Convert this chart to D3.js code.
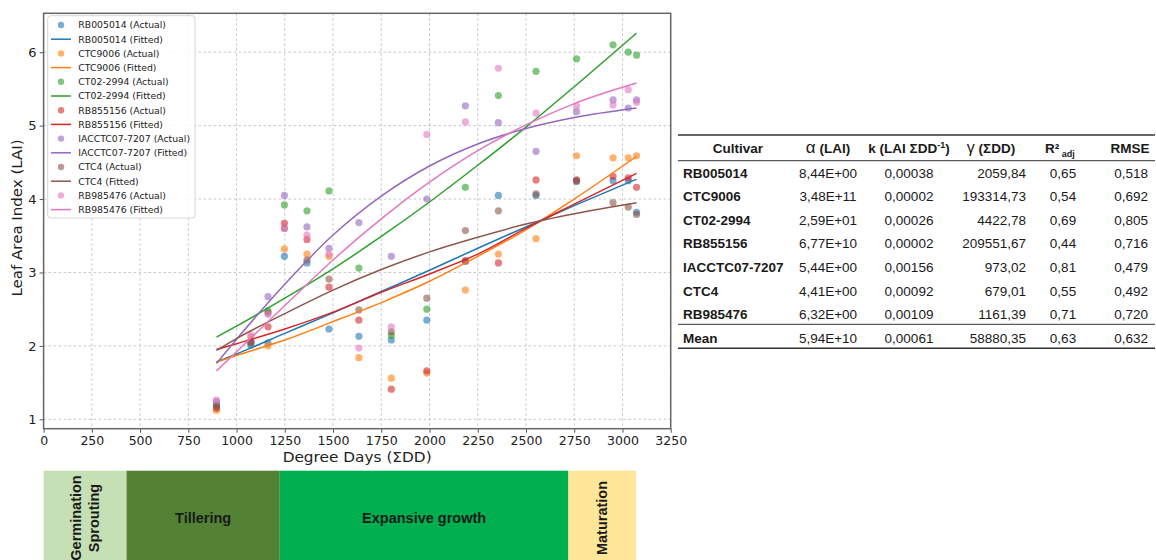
<!DOCTYPE html>
<html>
<head>
<meta charset="utf-8">
<script src="https://cdn.jsdelivr.net/npm/d3@7"></script>
<style>
  body { margin: 0; background: #fff; }
  svg { display: block; }
</style>
</head>
<body>
<svg id="chart" width="1156" height="560"></svg>
<script>
// observation dates (degree days)
var days = [896, 1074, 1163, 1248, 1365, 1479, 1634, 1802, 1986, 2186, 2357, 2552, 2762, 2951, 3030, 3073];

var cultivars = ["RB005014", "CTC9006", "CT02-2994", "RB855156", "IACCTC07-7207", "CTC4", "RB985476"];
var colors = ["#1f77b4", "#ff7f0e", "#2ca02c", "#d62728", "#9467bd", "#8c564b", "#e377c2"];

// actual LAI, one list per cultivar
var rb005014Actual = [1.20, 2.01, 2.04, 3.22, 3.13, 2.23, 2.13, 2.08, 2.35, 3.15, 4.05, 4.05, 4.24, 4.25, 4.25, 3.82];
var ctc9006Actual  = [1.12, 2.12, 2.00, 3.32, 3.25, 3.22, 1.84, 1.56, 1.63, 2.76, 3.25, 3.46, 4.59, 4.56, 4.56, 4.59];
var ct022994Actual = [1.18, 2.05, 2.48, 3.92, 3.84, 4.11, 3.06, 2.14, 2.50, 4.16, 5.41, 5.74, 5.91, 6.10, 6.00, 5.96];
var rb855156Actual = [1.15, 2.06, 2.26, 3.67, 3.45, 2.80, 2.35, 1.41, 1.66, 3.16, 3.13, 4.26, 4.26, 4.31, 4.29, 4.16];
var iacActual      = [1.24, 2.06, 2.67, 4.05, 3.62, 3.33, 3.68, 3.22, 4.00, 5.27, 5.04, 4.65, 5.19, 5.35, 5.24, 5.35];
var ctc4Actual     = [1.18, 2.04, 2.45, 3.60, 3.17, 2.91, 2.49, 2.19, 2.65, 3.57, 3.84, 4.07, 4.25, 3.95, 3.89, 3.79];
var rb985476Actual = [1.26, 2.15, 2.43, 3.60, 3.51, 3.25, 1.97, 2.26, 4.88, 5.05, 5.78, 5.17, 5.27, 5.28, 5.49, 5.32];

// fitted curves, read at these degree days
var fitDays = [896, 1000, 1250, 1500, 1750, 2000, 2250, 2500, 2750, 3073];
var rb005014Fit = [1.78, 1.89, 2.17, 2.45, 2.74, 3.03, 3.33, 3.62, 3.91, 4.27];
var ctc9006Fit  = [1.78, 1.87, 2.08, 2.33, 2.59, 2.88, 3.22, 3.58, 4.00, 4.58];
var ct022994Fit = [2.12, 2.27, 2.65, 3.05, 3.49, 3.96, 4.46, 4.98, 5.53, 6.26];
var rb855156Fit = [1.95, 2.03, 2.23, 2.46, 2.73, 2.98, 3.25, 3.60, 3.93, 4.35];
var iacFit      = [1.76, 2.09, 2.84, 3.51, 4.04, 4.45, 4.75, 4.96, 5.11, 5.24];
var ctc4Fit     = [1.94, 2.10, 2.44, 2.76, 3.04, 3.28, 3.48, 3.66, 3.80, 3.95];
var rb985476Fit = [1.66, 1.92, 2.55, 3.17, 3.73, 4.23, 4.66, 5.01, 5.30, 5.58];

var actualSets = [rb005014Actual, ctc9006Actual, ct022994Actual, rb855156Actual, iacActual, ctc4Actual, rb985476Actual];
var fitSets = [rb005014Fit, ctc9006Fit, ct022994Fit, rb855156Fit, iacFit, ctc4Fit, rb985476Fit];

var xTicks = [0, 250, 500, 750, 1000, 1250, 1500, 1750, 2000, 2250, 2500, 2750, 3000, 3250];
var yTicks = [1, 2, 3, 4, 5, 6];

// crop phases
var phaseNames = ["Germination\nSprouting", "Tillering", "Expansive growth", "Maturation"];
var phaseStart = [0, 430, 1224, 2720];
var phaseEnd = [430, 1224, 2720, 3070];
var phaseColors = ["#c5e0b4", "#548235", "#00b050", "#ffe699"];
var phaseVertical = [true, false, false, true];

// parameter table
var tableNames = ["RB005014", "CTC9006", "CT02-2994", "RB855156", "IACCTC07-7207", "CTC4", "RB985476", "Mean"];
var alphaCol = ["8,44E+00", "3,48E+11", "2,59E+01", "6,77E+10", "5,44E+00", "4,41E+00", "6,32E+00", "5,94E+10"];
var kCol = ["0,00038", "0,00002", "0,00026", "0,00002", "0,00156", "0,00092", "0,00109", "0,00061"];
var gammaCol = ["2059,84", "193314,73", "4422,78", "209551,67", "973,02", "679,01", "1161,39", "58880,35"];
var r2Col = ["0,65", "0,54", "0,69", "0,44", "0,81", "0,55", "0,71", "0,63"];
var rmseCol = ["0,518", "0,692", "0,805", "0,716", "0,479", "0,492", "0,720", "0,632"];

var svg = d3.select("#chart");
var pLeft = 43.6, pRight = 670.7, pTop = 13.3, pBottom = 428.7;

var x = d3.scaleLinear().domain([0, 3250]).range([pLeft, pRight]);
var y = d3.scaleLinear().domain([0.872, 6.53]).range([pBottom, pTop]);

var g = svg.append("g");

// grid
g.selectAll(".gx").data(xTicks).enter().append("line")
  .attr("x1", d => x(d)).attr("x2", d => x(d))
  .attr("y1", pTop).attr("y2", pBottom)
  .attr("stroke", "#b8b8b8").attr("stroke-width", 0.8)
  .attr("stroke-dasharray", "2.5,2.5");
g.selectAll(".gy").data(yTicks).enter().append("line")
  .attr("x1", pLeft).attr("x2", pRight)
  .attr("y1", d => y(d)).attr("y2", d => y(d))
  .attr("stroke", "#b8b8b8").attr("stroke-width", 0.8)
  .attr("stroke-dasharray", "2.5,2.5");

// axes
var xAxis = g.append("g")
  .attr("transform", "translate(0," + pBottom + ")")
  .call(d3.axisBottom(x).tickValues(xTicks).tickFormat(d3.format("d")).tickSize(4).tickPadding(3));
var yAxis = g.append("g")
  .attr("transform", "translate(" + pLeft + ",0)")
  .call(d3.axisLeft(y).tickValues(yTicks).tickFormat(d3.format("d")).tickSize(4).tickPadding(3));
[xAxis, yAxis].forEach(function(a){
  a.select(".domain").remove();
  a.selectAll(".tick line").attr("stroke", "#555");
  a.selectAll(".tick text")
    .attr("font-family", "DejaVu Sans, sans-serif")
    .attr("font-size", "12.5px")
    .attr("fill", "#222");
});
yAxis.selectAll(".tick text").attr("font-size", "13px");

// frame
g.append("rect")
  .attr("x", pLeft).attr("y", pTop)
  .attr("width", pRight - pLeft).attr("height", pBottom - pTop)
  .attr("fill", "none").attr("stroke", "#666").attr("stroke-width", 1.5);

g.append("text")
  .attr("x", (pLeft + pRight) / 2).attr("y", 462)
  .attr("text-anchor", "middle")
  .attr("font-family", "DejaVu Sans, sans-serif")
  .attr("font-size", "14.5px").attr("fill", "#222")
  .attr("textLength", 149).attr("lengthAdjust", "spacingAndGlyphs")
  .text("Degree Days (ΣDD)");

g.append("text")
  .attr("transform", "translate(22,218) rotate(-90)")
  .attr("text-anchor", "middle")
  .attr("font-family", "DejaVu Sans, sans-serif")
  .attr("font-size", "14px").attr("fill", "#222")
  .attr("textLength", 157).attr("lengthAdjust", "spacingAndGlyphs")
  .text("Leaf Area Index (LAI)");

// points and fitted lines
var line = d3.line()
  .x(d => x(d[0]))
  .y(d => y(d[1]))
  .curve(d3.curveMonotoneX);

cultivars.forEach(function(c, i){
  var pts = days.map((d, j) => [d, actualSets[i][j]]);
  g.selectAll(".p" + i).data(pts).enter().append("circle")
    .attr("cx", d => x(d[0]))
    .attr("cy", d => y(d[1]))
    .attr("r", 3.6)
    .attr("fill", colors[i])
    .attr("fill-opacity", 0.6);
});
cultivars.forEach(function(c, i){
  g.append("path")
    .datum(fitDays.map((d, j) => [d, fitSets[i][j]]))
    .attr("d", line)
    .attr("fill", "none")
    .attr("stroke", colors[i])
    .attr("stroke-width", 1.5);
});

// legend
var lg = g.append("g");
lg.append("rect")
  .attr("x", 47.7).attr("y", 15.7).attr("width", 147.3).attr("height", 202.3)
  .attr("rx", 3).attr("fill", "#fff").attr("fill-opacity", 0.85)
  .attr("stroke", "#d6d6d6");
cultivars.forEach(function(c, i){
  var y0 = 25 + i * 2 * 14.2;
  lg.append("circle").attr("cx", 61).attr("cy", y0).attr("r", 3.2)
    .attr("fill", colors[i]).attr("fill-opacity", 0.6);
  lg.append("text").attr("x", 78.3).attr("y", y0 + 3.3)
    .attr("font-family", "DejaVu Sans, sans-serif").attr("font-size", "9.3px").attr("fill", "#222")
    .text(c + " (Actual)");
  lg.append("line").attr("x1", 51).attr("x2", 71)
    .attr("y1", y0 + 14.2).attr("y2", y0 + 14.2)
    .attr("stroke", colors[i]).attr("stroke-width", 1.5);
  lg.append("text").attr("x", 78.3).attr("y", y0 + 14.2 + 3.3)
    .attr("font-family", "DejaVu Sans, sans-serif").attr("font-size", "9.3px").attr("fill", "#222")
    .text(c + " (Fitted)");
});

// phase bar
var ph = svg.append("g");
var phTop = 470.7, phBottom = 560;
phaseNames.forEach(function(n, i){
  var x0 = x(phaseStart[i]), x1 = x(phaseEnd[i]);
  ph.append("rect")
    .attr("x", x0).attr("y", phTop)
    .attr("width", x1 - x0).attr("height", phBottom - phTop)
    .attr("fill", phaseColors[i]);
  var cx = (x0 + x1) / 2, cy = 518;
  var lines = n.split("\n");
  var t = ph.append("text")
    .attr("font-family", "Liberation Sans, Arial, sans-serif")
    .attr("font-weight", "bold").attr("font-size", "14.5px")
    .attr("fill", "#1a1a1a").attr("text-anchor", "middle");
  if (phaseVertical[i]) {
    t.attr("transform", "translate(" + cx + "," + cy + ") rotate(-90)");
    lines.forEach(function(l, k){
      t.append("tspan").attr("x", 0)
        .attr("y", (k - (lines.length - 1) / 2) * 18 + 5)
        .text(l);
    });
  } else {
    t.attr("x", cx).attr("y", cy + 5).text(n);
  }
});

// table
var tb = svg.append("g")
  .attr("font-family", "Liberation Sans, Arial, sans-serif")
  .attr("font-size", "13.5px").attr("fill", "#1a1a1a");
var tl = 678, tr = 1155;
[[135, 1.5], [160.7, 1], [324.3, 1], [348.3, 1.5]].forEach(function(l){
  tb.append("line").attr("x1", tl).attr("x2", tr)
    .attr("y1", l[0]).attr("y2", l[0])
    .attr("stroke", "#333").attr("stroke-width", l[1]);
});
var hy = 152.8;
tb.append("text").attr("x", 738).attr("y", hy).attr("text-anchor", "middle")
  .attr("font-weight", "bold").text("Cultivar");
var ha = tb.append("text").attr("x", 828).attr("y", hy).attr("text-anchor", "middle").attr("font-weight", "bold");
ha.append("tspan").attr("font-size", "17px").attr("font-weight", "normal").text("α");
ha.append("tspan").text(" (LAI)");
var hk = tb.append("text").attr("x", 909).attr("y", hy).attr("text-anchor", "middle").attr("font-weight", "bold");
hk.append("tspan").text("k (LAI ΣDD");
hk.append("tspan").attr("font-size", "9px").attr("dy", -5).text("-1");
hk.append("tspan").attr("dy", 5).text(")");
var hg = tb.append("text").attr("x", 991).attr("y", hy).attr("text-anchor", "middle").attr("font-weight", "bold");
hg.append("tspan").attr("font-size", "16px").attr("font-weight", "normal").text("γ");
hg.append("tspan").text(" (ΣDD)");
var hr = tb.append("text").attr("x", 1060).attr("y", hy).attr("text-anchor", "middle").attr("font-weight", "bold");
hr.append("tspan").text("R²");
hr.append("tspan").attr("font-size", "9px").attr("dy", 4).text(" adj");
tb.append("text").attr("x", 1130).attr("y", hy).attr("text-anchor", "middle")
  .attr("font-weight", "bold").text("RMSE");

var rowY = [172.7, 195.7, 220, 243.3, 266.7, 290.7, 314.3, 338.3];
tableNames.forEach(function(n, i){
  var yy = rowY[i] + 4.8;
  tb.append("text").attr("x", 683).attr("y", yy).attr("font-weight", "bold").text(n);
  tb.append("text").attr("x", 828).attr("y", yy).attr("text-anchor", "middle").text(alphaCol[i]);
  tb.append("text").attr("x", 909).attr("y", yy).attr("text-anchor", "middle").text(kCol[i]);
  tb.append("text").attr("x", 1026).attr("y", yy).attr("text-anchor", "end").text(gammaCol[i]);
  tb.append("text").attr("x", 1063).attr("y", yy).attr("text-anchor", "middle").text(r2Col[i]);
  tb.append("text").attr("x", 1148).attr("y", yy).attr("text-anchor", "end").text(rmseCol[i]);
});
</script>
</body>
</html>
